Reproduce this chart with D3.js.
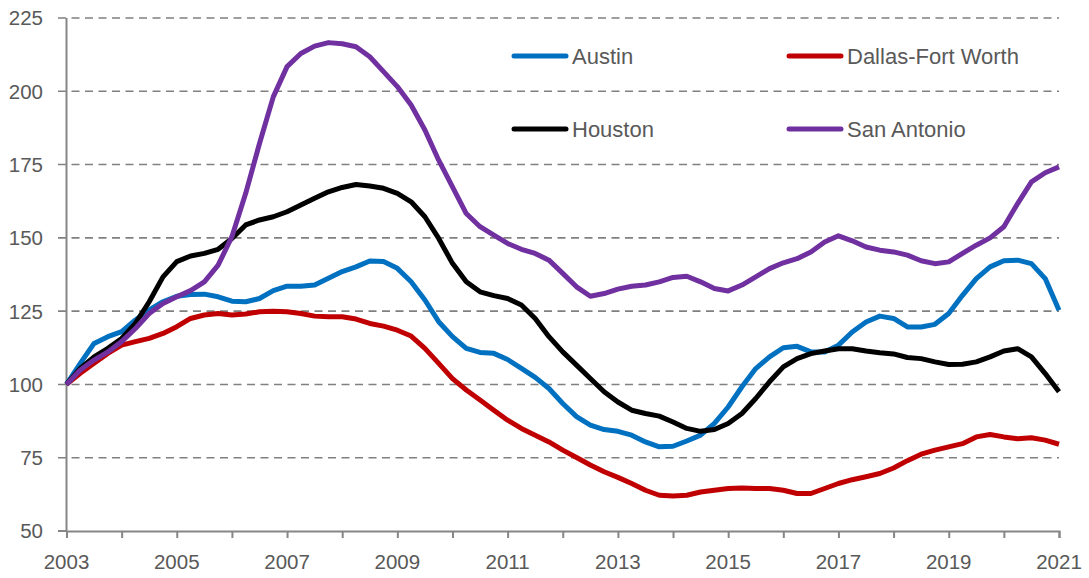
<!DOCTYPE html>
<html>
<head>
<meta charset="utf-8">
<script src="https://cdn.jsdelivr.net/npm/d3@7"></script>
<style>
  body { margin: 0; background: #fff; }
  svg { display: block; }
  text { font-family: "Liberation Sans", Arial, sans-serif; fill: #595959; }
</style>
</head>
<body>
<svg id="svg" width="1089" height="578"></svg>
<script>
// quarterly index values, 2003Q1 .. 2021Q1
var austin = [100, 107.2, 114, 116.3, 118, 122, 125.4, 128.2, 130.1, 130.7, 130.8, 129.9, 128.4, 128.2, 129.3, 132, 133.5, 133.5, 133.9, 136.2,
  138.5, 140.1, 142.1, 141.9, 139.6, 135, 128.8, 121.4, 116.3, 112.3, 110.9, 110.6, 108.5, 105.5, 102.4, 98.6, 93.5, 89, 86.1, 84.6,
  84, 82.7, 80.4, 78.7, 78.9, 80.7, 82.7, 86.7, 92.3, 99.2, 105.4, 109.4, 112.5, 113, 111.1, 111.1, 113.4, 117.9, 121.3, 123.3,
  122.5, 119.6, 119.6, 120.5, 124.2, 130.4, 136.1, 140.1, 142.2, 142.4, 141.2, 136.1, 125.3];

var dallas = [100, 103.8, 107.2, 110.6, 113.4, 114.6, 115.7, 117.4, 119.7, 122.5, 123.7, 124.2, 123.7, 124, 124.8, 125, 124.8, 124.2, 123.3, 123.1,
  123.1, 122.3, 120.8, 119.9, 118.5, 116.5, 112.3, 107.2, 102, 98.1, 94.7, 91.2, 87.8, 85, 82.7, 80.4, 77.6, 75.1, 72.5, 70.2,
  68.3, 66.2, 63.9, 62.2, 61.9, 62.2, 63.3, 63.9, 64.5, 64.7, 64.5, 64.5, 63.9, 62.8, 62.8, 64.5, 66.2, 67.5, 68.5, 69.6,
  71.5, 74, 76.2, 77.6, 78.7, 79.8, 82.1, 82.9, 82.1, 81.5, 81.8, 81, 79.6];

var houston = [100, 105.5, 109.4, 112.3, 115.7, 120.8, 128.2, 136.7, 141.9, 143.8, 144.7, 146.1, 149.8, 154.4, 156.1, 157.2, 158.9, 161.2, 163.5, 165.7,
  167.2, 168.2, 167.7, 166.9, 165.2, 162.3, 157.2, 149.8, 141.3, 135, 131.6, 130.3, 129.3, 127.1, 122.5, 116.3, 111.1, 106.6, 102, 97.5,
  94, 91.2, 90.1, 89.2, 87.2, 85, 84, 84.6, 86.7, 90.1, 95.2, 100.9, 106, 108.8, 110.5, 111.4, 112.2, 112.2, 111.4, 110.8,
  110.4, 109.2, 108.8, 107.7, 106.8, 106.9, 107.7, 109.4, 111.4, 112.2, 109.4, 103.7, 97.5];

var sanAntonio = [100, 104.9, 108.3, 111.1, 114.6, 119.1, 124.2, 127.6, 129.9, 132, 135, 140.7, 150.4, 165.2, 182.2, 198.1, 208.4, 212.9, 215.4, 216.6,
  216.2, 215.2, 211.8, 206.7, 201.6, 195.3, 186.8, 176.5, 167.4, 158.3, 153.8, 150.9, 148.1, 146.1, 144.7, 142.4, 137.9, 133.3, 130.1, 131,
  132.5, 133.5, 133.9, 135, 136.5, 136.9, 135, 132.7, 131.9, 133.9, 136.7, 139.5, 141.5, 142.9, 145.2, 148.6, 150.7, 149, 146.9, 145.8,
  145.2, 144.1, 142.2, 141.2, 141.8, 144.7, 147.5, 150, 153.8, 161.7, 169.1, 172.2, 174.2];

var quarters = d3.range(austin.length).map(function(i){ return 2003 + i / 4; });

var yTicks = [50, 75, 100, 125, 150, 175, 200, 225];
var xLabelYears = [2003, 2005, 2007, 2009, 2011, 2013, 2015, 2017, 2019, 2021];

var seriesNames = ['Austin', 'Dallas-Fort Worth', 'Houston', 'San Antonio'];
var seriesColors = ['#0070C0', '#C00000', '#000000', '#7030A0'];
var seriesValues = [austin, dallas, houston, sanAntonio];

var svg = d3.select('svg');

var x = d3.scaleLinear().domain([2003, 2021]).range([66.5, 1059]);
var y = d3.scaleLinear().domain([50, 225]).range([531, 18]);

// gridlines (dashed), the first dash doubles as the tick mark
svg.append('g')
    .selectAll('line')
    .data(yTicks.slice(1))
    .enter()
    .append('line')
    .attr('x1', 58)
    .attr('x2', 1059)
    .attr('y1', function(d){ return y(d); })
    .attr('y2', function(d){ return y(d); })
    .attr('stroke', '#808080')
    .attr('stroke-width', 1.6)
    .attr('stroke-dasharray', '8,5.5');

// y labels
svg.append('g')
    .selectAll('text')
    .data(yTicks)
    .enter()
    .append('text')
    .attr('x', 43)
    .attr('y', function(d){ return y(d); })
    .attr('dy', '0.36em')
    .attr('text-anchor', 'end')
    .style('font-size', '20.5px')
    .text(function(d){ return d; });

// y axis line + tick at 50
svg.append('line')
    .attr('x1', x(2003)).attr('x2', x(2003))
    .attr('y1', y(225)).attr('y2', y(50))
    .attr('stroke', '#868686').attr('stroke-width', 2);
svg.append('line')
    .attr('x1', 58).attr('x2', x(2003))
    .attr('y1', y(50)).attr('y2', y(50))
    .attr('stroke', '#868686').attr('stroke-width', 2);

// x axis
var xAxis = d3.axisBottom(x)
    .tickValues(d3.range(2003, 2022))
    .tickSize(7)
    .tickFormat('');
var gx = svg.append('g')
    .attr('transform', 'translate(0,' + y(50) + ')')
    .call(xAxis);
gx.select('.domain').attr('stroke', '#868686').attr('stroke-width', 2);
gx.selectAll('.tick line').attr('stroke', '#868686').attr('stroke-width', 2);

svg.append('g')
    .selectAll('text')
    .data(xLabelYears)
    .enter()
    .append('text')
    .attr('x', function(d){ return x(d); })
    .attr('y', 569)
    .attr('text-anchor', 'middle')
    .style('font-size', '20.5px')
    .text(function(d){ return d; });

// series lines
var line = d3.line()
    .x(function(d, i){ return x(quarters[i]); })
    .y(function(d){ return y(d); });

svg.append('g')
    .selectAll('path')
    .data(seriesValues)
    .enter()
    .append('path')
    .attr('d', line)
    .attr('fill', 'none')
    .attr('stroke', function(d, i){ return seriesColors[i]; })
    .attr('stroke-width', 5)
    .attr('stroke-linejoin', 'round');

// legend
var legendPos = [[514, 56], [789, 56], [514, 129], [789, 129]];
var legend = svg.append('g')
    .selectAll('g')
    .data(seriesNames)
    .enter()
    .append('g')
    .attr('transform', function(d, i){ return 'translate(' + legendPos[i][0] + ',' + legendPos[i][1] + ')'; });

legend.append('line')
    .attr('x1', 0).attr('x2', 52)
    .attr('y1', 0).attr('y2', 0)
    .attr('stroke', function(d, i){ return seriesColors[i]; })
    .attr('stroke-width', 5)
    .attr('stroke-linecap', 'round');

legend.append('text')
    .attr('x', 58)
    .attr('y', 0)
    .attr('dy', '0.36em')
    .style('font-size', '22px')
    .text(function(d){ return d; });
</script>
</body>
</html>
